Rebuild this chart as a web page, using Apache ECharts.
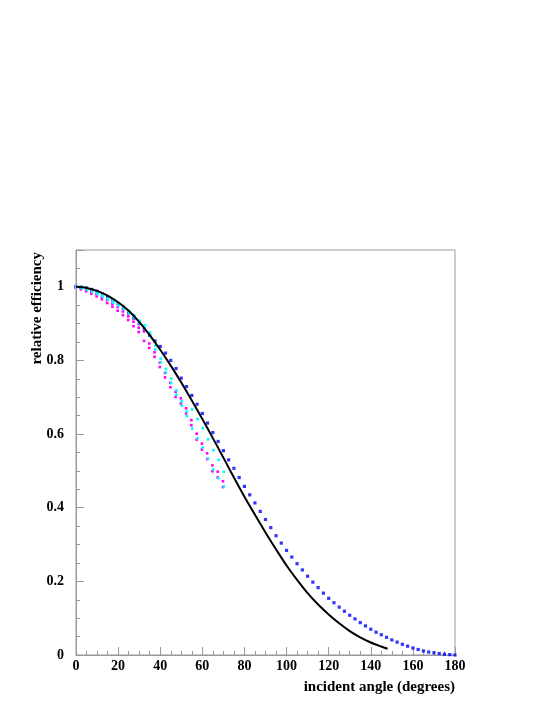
<!DOCTYPE html>
<html>
<head>
<meta charset="utf-8">
<script src="https://cdn.jsdelivr.net/npm/echarts@6/dist/echarts.min.js"></script>
<style>
  html, body { margin: 0; padding: 0; background: #fff; }
  #chart { width: 545px; height: 705px; }
</style>
</head>
<body>
<div id="chart"></div>
<script>
// calculated curve, every 5 degrees (last point at 148)
const curveAngles = [0, 5, 10, 15, 20, 25, 30, 35, 40, 45, 50, 55, 60, 65, 70, 75, 80, 85, 90,
  95, 100, 105, 110, 115, 120, 125, 130, 135, 140, 145, 148];
const curveValues = [1.000, 0.997, 0.989, 0.976, 0.958, 0.935, 0.905, 0.869, 0.829, 0.786, 0.740,
  0.691, 0.641, 0.589, 0.536, 0.482, 0.430, 0.381, 0.333, 0.287, 0.243, 0.204, 0.168, 0.137,
  0.110, 0.086, 0.065, 0.048, 0.034, 0.023, 0.017];

// blue points, every 2.5 degrees from 0 to 180
const blueValues = [1.000, 0.999, 0.997, 0.993, 0.988, 0.981, 0.973, 0.964, 0.954, 0.942, 0.929,
  0.915, 0.900, 0.884, 0.868, 0.853, 0.838, 0.820, 0.800, 0.778, 0.752, 0.729, 0.705, 0.681,
  0.656, 0.630, 0.604, 0.580, 0.555, 0.530, 0.507, 0.482, 0.458, 0.435, 0.413, 0.390, 0.368,
  0.346, 0.324, 0.304, 0.284, 0.266, 0.248, 0.231, 0.214, 0.198, 0.183, 0.168, 0.154, 0.142,
  0.130, 0.119, 0.108, 0.098, 0.088, 0.079, 0.070, 0.062, 0.055, 0.048, 0.041, 0.035, 0.029,
  0.024, 0.019, 0.015, 0.011, 0.008, 0.006, 0.004, 0.002, 0.001, 0.000];

// measured points, every 2.5 degrees from 0 to 70
const cyanValues = [1.000, 0.998, 0.994, 0.988, 0.982, 0.975, 0.967, 0.960, 0.952, 0.943, 0.932,
  0.920, 0.905, 0.892, 0.872, 0.835, 0.800, 0.772, 0.745, 0.713, 0.683, 0.655, 0.641, 0.615,
  0.590, 0.560, 0.530, 0.505, 0.478];
const cyanErrors = [0.002, 0.002, 0.002, 0.002, 0.002, 0.002, 0.002, 0.003, 0.003, 0.003, 0.003,
  0.003, 0.003, 0.004, 0.004, 0.005, 0.005, 0.005, 0.006, 0.006, 0.006, 0.006, 0.026, 0.026,
  0.026, 0.026, 0.026, 0.025, 0.020];
const magentaValues = [1.000, 0.995, 0.990, 0.984, 0.977, 0.969, 0.960, 0.950, 0.940, 0.928, 0.915,
  0.899, 0.883, 0.866, 0.840, 0.816, 0.788, 0.760, 0.733, 0.708, 0.690, 0.663, 0.631, 0.593,
  0.566, 0.540, 0.507, 0.490, 0.464];
const magentaErrors = [0.002, 0.002, 0.002, 0.003, 0.003, 0.003, 0.004, 0.004, 0.005, 0.005, 0.005,
  0.006, 0.006, 0.013, 0.006, 0.006, 0.006, 0.006, 0.006, 0.007, 0.007, 0.007, 0.007, 0.008,
  0.008, 0.008, 0.008, 0.008, 0.008];

const step = 2.5;
const font = '"Liberation Serif", "DejaVu Serif", serif';

const curveData = curveAngles.map((a, i) => [a, curveValues[i]]);
const blueData = blueValues.map((v, i) => [i * step, v]);
const cyanData = cyanValues.map((v, i) => [i * step + 0.2, v, cyanErrors[i]]);
const magentaData = magentaValues.map((v, i) => [i * step - 0.2, v, magentaErrors[i]]);

// two small squares at the ends of each error bar
function errorSquares(color) {
  return function (params, api) {
    const x = api.value(0), y = api.value(1), e = api.value(2);
    const top = api.coord([x, y + e]);
    const bot = api.coord([x, y - e]);
    const s = 2.6;
    return {
      type: 'group',
      children: [
        { type: 'rect', shape: { x: top[0] - s / 2, y: top[1] - s / 2, width: s, height: s }, style: { fill: color } },
        { type: 'rect', shape: { x: bot[0] - s / 2, y: bot[1] - s / 2, width: s, height: s }, style: { fill: color } }
      ]
    };
  };
}

const gridBox = { left: 76, right: 90, top: 250, bottom: 50 };
const axisGray = '#999';

let chart = echarts.init(document.getElementById('chart'));
let option = {
  animation: false,
  backgroundColor: '#fff',
  grid: Object.assign({ show: true, borderColor: axisGray, borderWidth: 1 }, gridBox),
  xAxis: [
    {
      type: 'value', min: 0, max: 180, interval: 5,
      axisLine: { lineStyle: { color: axisGray } },
      axisTick: { inside: true, length: 4, lineStyle: { color: axisGray } },
      axisLabel: { show: false },
      splitLine: { show: false }
    },
    {
      type: 'value', min: 0, max: 180, interval: 20, position: 'bottom',
      axisLine: { show: false },
      axisTick: { inside: true, length: 8, lineStyle: { color: axisGray } },
      axisLabel: { fontFamily: font, fontWeight: 'bold', fontSize: 14, color: '#000', margin: 4 },
      splitLine: { show: false }
    }
  ],
  yAxis: [
    {
      type: 'value', min: 0, max: 1.1, interval: 0.05,
      axisLine: { show: true, lineStyle: { color: axisGray } },
      axisTick: { show: true, inside: true, length: 4, lineStyle: { color: axisGray } },
      axisLabel: { show: false },
      splitLine: { show: false }
    },
    {
      type: 'value', min: 0, max: 1.1, interval: 0.2, position: 'left',
      axisLine: { show: false },
      axisTick: { show: true, inside: true, length: 8, lineStyle: { color: axisGray } },
      axisLabel: {
        fontFamily: font, fontWeight: 'bold', fontSize: 14, color: '#000', margin: 12,
        formatter: v => (v > 1.0001 ? '' : String(Math.round(v * 10) / 10))
      },
      splitLine: { show: false }
    }
  ],
  graphic: [
    {
      type: 'text', x: 455, y: 687,
      style: { text: 'incident angle (degrees)', font: 'bold 15px ' + font, fill: '#000', align: 'right', verticalAlign: 'middle' }
    },
    {
      type: 'text', x: 37, y: 252, rotation: Math.PI / 2,
      style: { text: 'relative efficiency', font: 'bold 15px ' + font, fill: '#000', align: 'right', verticalAlign: 'middle' }
    }
  ],
  series: [
    {
      type: 'scatter', data: blueData, symbol: 'rect', symbolSize: 3.2,
      itemStyle: { color: '#0000ff' }, z: 3
    },
    {
      type: 'custom', data: magentaData, renderItem: errorSquares('#ff00ff'),
      encode: { x: 0, y: 1 }, z: 4
    },
    {
      type: 'custom', data: cyanData, renderItem: errorSquares('#00ffff'),
      encode: { x: 0, y: 1 }, z: 5
    },
    {
      type: 'line', data: curveData, smooth: 0.3, showSymbol: false,
      lineStyle: { color: '#000', width: 2 }, z: 6
    }
  ]
};
chart.setOption(option);
</script>
</body>
</html>
